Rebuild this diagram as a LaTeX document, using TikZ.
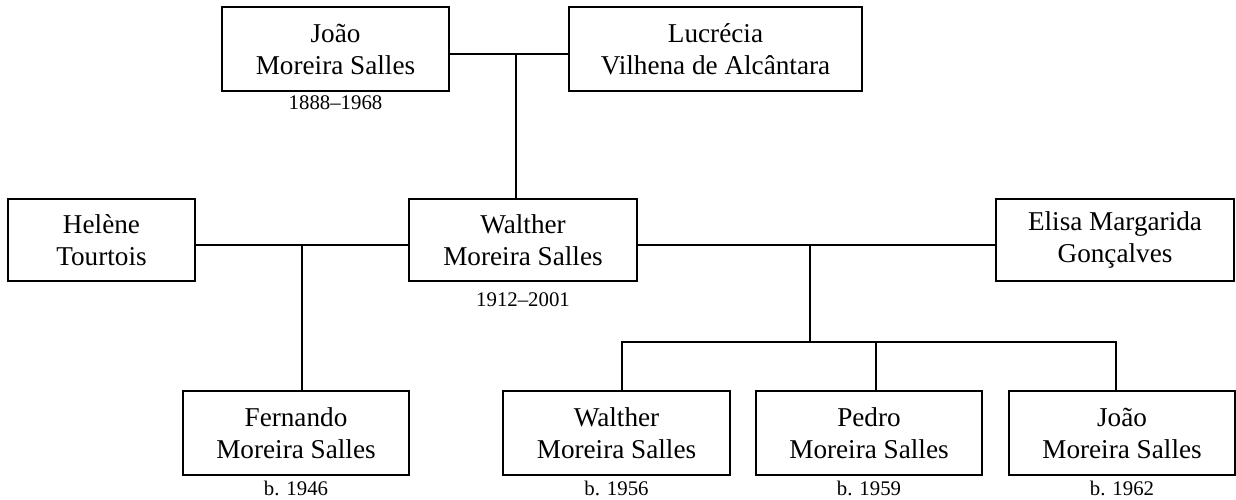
\documentclass[tikz,border=0pt]{standalone}
\usepackage{fontspec}
\setmainfont{Liberation Serif}
\begin{document}
\tikzset{
  person/.style={draw, line width=1pt, align=center, inner sep=0pt,
    minimum height=42pt, font=\fontsize{13.6}{16}\selectfont},
  yrs/.style={inner sep=0pt, font=\fontsize{10.4}{12}\selectfont},
  link/.style={line width=1pt}
}
\begin{tikzpicture}[x=0.5pt,y=-0.5pt]
\useasboundingbox (0,0) rectangle (1236,499);
% top generation
\node[person, minimum width=113.5pt] (jms) at (335.5,49) {João\\Moreira Salles};
\node[person, minimum width=146.5pt] (luc) at (715.5,49) {Lucrécia\\Vilhena de Alcântara};
% middle generation
\node[person, minimum width=93.5pt, minimum height=41pt] (hel) at (101.5,240) {Helène\\Tourtois};
\node[person, minimum width=114pt, minimum height=41pt] (wal) at (523,240) {Walther\\Moreira Salles};
\node[person, minimum width=119pt, minimum height=41pt] (eli) at (1115,240) {Elisa Margarida\\Gonçalves};
% children
\node[person, minimum width=113pt] (fer) at (296,433) {Fernando\\Moreira Salles};
\node[person, minimum width=113.5pt] (wal2) at (616.5,433) {Walther\\Moreira Salles};
\node[person, minimum width=113pt] (ped) at (869,433) {Pedro\\Moreira Salles};
\node[person, minimum width=113pt] (joa) at (1122,433) {João\\Moreira Salles};
% dates
\node[yrs] (d1) at (335.5,103) {1888–1968};
\node[yrs] (d2) at (523,300) {1912–2001};
\node[yrs] (d3) at (296,488) {b. 1946};
\node[yrs] (d4) at (616.5,488) {b. 1956};
\node[yrs] (d5) at (869,488) {b. 1959};
\node[yrs] (d6) at (1122,488) {b. 1962};
% junction points
\coordinate (m1) at (516,54);
\coordinate (m2) at (302,245);
\coordinate (m3) at (810,245);
\coordinate (s3) at (810,342);
\coordinate (b1) at (622,342);
\coordinate (b2) at (876,342);
\coordinate (b3) at (1116,342);
% connectors
\draw[link] (jms.east|-m1) -- (luc.west|-m1);
\draw[link] (m1) -- (m1|-wal.north);
\draw[link] (hel.east|-m2) -- (wal.west|-m2);
\draw[link] (m2) -- (m2|-fer.north);
\draw[link] (wal.east|-m3) -- (eli.west|-m3);
\draw[link] (m3) -- (s3);
\draw[link] (b1|-wal2.north) -- (b1) -- (b3) -- (b3|-joa.north);
\draw[link] (b2) -- (b2|-ped.north);
\end{tikzpicture}
\end{document}
